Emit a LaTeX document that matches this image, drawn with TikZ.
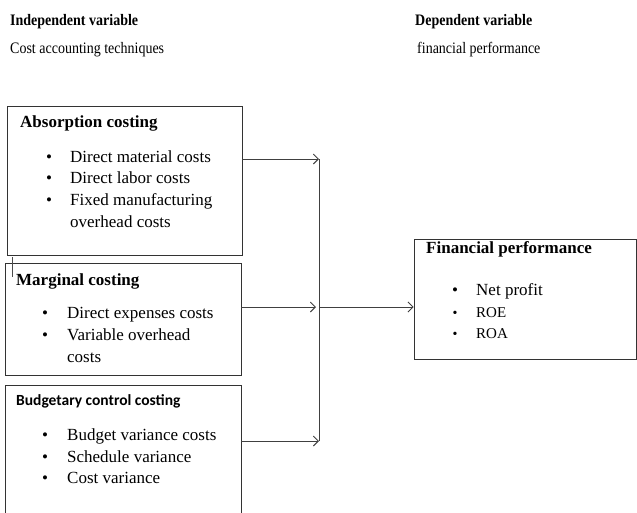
\documentclass[tikz,border=0pt]{standalone}
\usepackage{fontspec}
\setmainfont{Liberation Serif}
\newfontfamily\calib{Carlito}
\newfontfamily\hdfont[FakeStretch=0.875]{Liberation Serif}
\usetikzlibrary{arrows.meta}
\begin{document}
\begin{tikzpicture}[x=1pt,y=-1pt,
  box/.style={draw=black!80, line width=0.9pt, inner sep=0pt},
  hd/.style={anchor=base west, inner sep=0pt, font=\hdfont\fontsize{16}{18}\selectfont},
  hdb/.style={hd, font=\hdfont\bfseries\fontsize{16}{18}\selectfont},
  tt/.style={anchor=base west, inner sep=0pt, font=\bfseries\fontsize{17}{20}\selectfont},
  itm/.style={anchor=base west, inner sep=0pt, font=\fontsize{17}{20}\selectfont},
  bul/.style={anchor=base, inner sep=0pt, font=\fontsize{17}{20}\selectfont},
  sbul/.style={anchor=base, inner sep=0pt, font=\fontsize{14}{16}\selectfont},
  conn/.style={draw=black!75, line width=0.9pt},
  arr/.style={conn, -{Straight Barb[length=5pt,width=10pt]}}
]
\useasboundingbox (0,0) rectangle (637,512);
% headers
\node[hdb] (h1) at (10,25) {Independent variable};
\node[hd]  (h2) at (10,53) {Cost accounting techniques};
\node[hdb] (h3) at (415,25) {Dependent variable};
\node[hd]  (h4) at (417,53) {financial performance};
% boxes
\node[box, minimum width=235pt, minimum height=149pt] (b1) at (124.5,180.5) {};
\node[box, minimum width=236pt, minimum height=112pt] (b2) at (123,319) {};
\node[box, minimum width=236pt, minimum height=145pt] (b3) at (123,457.5) {};
\node[box, minimum width=222pt, minimum height=120pt] (b4) at (525,299) {};
% box 1 text
\node[tt] (t1) at (20,127) {Absorption costing};
\node[bul] (p11) at (49,162) {\textbullet};
\node[itm] (i11) at (70,162) {Direct material costs};
\node[bul] (p12) at (49,183.5) {\textbullet};
\node[itm] (i12) at (70,183.5) {Direct labor costs};
\node[bul] (p13) at (49,205) {\textbullet};
\node[itm] (i13) at (70,205) {Fixed manufacturing};
\node[itm] (i14) at (70,227) {overhead costs};
% box 2 text
\node[tt] (t2) at (16,285) {Marginal costing};
\node[bul] (p21) at (45,318) {\textbullet};
\node[itm] (i21) at (67,318) {Direct expenses costs};
\node[bul] (p22) at (45,340) {\textbullet};
\node[itm] (i22) at (67,340) {Variable overhead};
\node[itm] (i23) at (67,362) {costs};
% box 3 text
\node[anchor=base west, inner sep=0pt, font=\calib\bfseries\fontsize{15.5}{18}\selectfont] (t3) at (16,405) {Budgetary control costing};
\node[bul] (p31) at (45,440) {\textbullet};
\node[itm] (i31) at (67,440) {Budget variance costs};
\node[bul] (p32) at (45,462) {\textbullet};
\node[itm] (i32) at (67,462) {Schedule variance};
\node[bul] (p33) at (45,483) {\textbullet};
\node[itm] (i33) at (67,483) {Cost variance};
% box 4 text
\node[tt] (t4) at (426,253) {Financial performance};
\node[bul] (p41) at (455,295) {\textbullet};
\node[itm] (i41) at (476,295) {Net profit};
\node[sbul] (p42) at (455,317) {\textbullet};
\node[itm, font=\fontsize{15}{18}\selectfont] (i42) at (476,317) {ROE};
\node[sbul] (p43) at (455,338) {\textbullet};
\node[itm, font=\fontsize{15}{18}\selectfont] (i43) at (476,338) {ROA};
% connectors
\coordinate (jt) at (319,159);
\coordinate (jm) at (319,307);
\coordinate (jb) at (319,441);
\draw[conn] (jt) -- (jb);
\draw[arr] (b1.east |- jt) -- (jt);
\draw[arr, shorten >=3pt] (b2.east |- jm) -- (jm);
\draw[arr] (b3.east |- jb) -- (jb);
\draw[arr] (jm) -- (b4.west |- jm);
% cursor mark
\draw[black!70, line width=0.6pt] (12,257) -- (12,277);
\end{tikzpicture}
\end{document}
